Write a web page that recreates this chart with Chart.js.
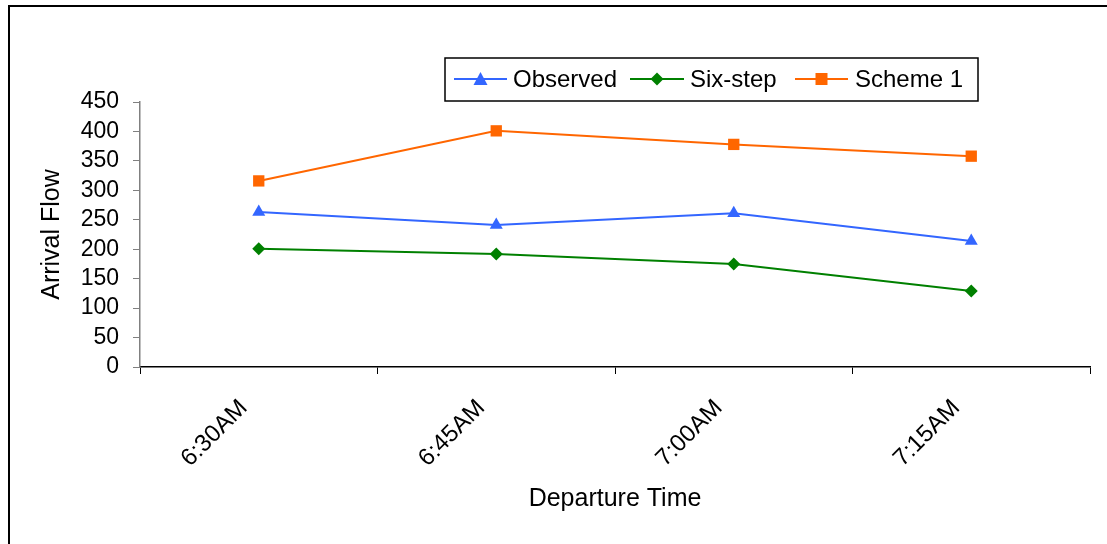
<!DOCTYPE html>
<html><head><meta charset="utf-8">
<script src="https://cdn.jsdelivr.net/npm/chart.js@4/dist/chart.umd.min.js"></script>
<style>html,body{margin:0;padding:0;background:#fff;overflow:hidden}#wrap{width:1107px;height:544px}</style>
</head><body><div id="wrap"><canvas id="c" width="1107" height="544"></canvas></div>
<script>
const categories = ["6:30AM", "6:45AM", "7:00AM", "7:15AM"];
const observed = [263, 241, 261, 214];
const sixStep = [201, 192, 175, 129];
const scheme1 = [316, 401, 378, 358];
const yTicks = [0, 50, 100, 150, 200, 250, 300, 350, 400, 450];
const seriesNames = ["Observed", "Six-step", "Scheme 1"];
const colors = ["#3366FF", "#008000", "#FF6600"];
const markers = ["triangle", "rectRot", "rect"];
const markerRadius = [7.5, 6.5, 8];
const FONT = "'Liberation Sans', Arial, sans-serif";

const frame = {
  id: 'frame',
  beforeDraw(chart) {
    const ctx = chart.ctx;
    ctx.save();
    ctx.fillStyle = '#fff';
    ctx.fillRect(0, 0, chart.width, chart.height);
    ctx.strokeStyle = '#000';
    ctx.lineWidth = 2;
    ctx.beginPath();
    ctx.moveTo(9, 560); ctx.lineTo(9, 6); ctx.lineTo(1120, 6);
    ctx.stroke();
    ctx.restore();
  }
};

const customLegend = {
  id: 'customLegend',
  afterDraw(chart) {
    const ctx = chart.ctx;
    ctx.save();
    ctx.strokeStyle = '#000';
    ctx.lineWidth = 1.5;
    ctx.strokeRect(445, 58, 533, 43);
    const cy = 79;
    const items = [
      {x0: 454, x1: 507, text: 513},
      {x0: 630, x1: 684, text: 690},
      {x0: 795, x1: 848, text: 855}
    ];
    ctx.font = "24px " + FONT;
    ctx.textBaseline = 'middle';
    items.forEach((it, i) => {
      ctx.strokeStyle = colors[i];
      ctx.lineWidth = 2;
      ctx.beginPath(); ctx.moveTo(it.x0, cy); ctx.lineTo(it.x1, cy); ctx.stroke();
      const mx = (it.x0 + it.x1) / 2;
      ctx.fillStyle = colors[i];
      ctx.beginPath();
      if (i === 0) { ctx.moveTo(mx, cy - 7); ctx.lineTo(mx + 7, cy + 6); ctx.lineTo(mx - 7, cy + 6); }
      else if (i === 1) { ctx.moveTo(mx, cy - 6.5); ctx.lineTo(mx + 6.5, cy); ctx.lineTo(mx, cy + 6.5); ctx.lineTo(mx - 6.5, cy); }
      else { ctx.rect(mx - 6, cy - 6, 12, 12); }
      ctx.closePath(); ctx.fill();
      ctx.fillStyle = '#000';
      ctx.textAlign = 'left';
      ctx.fillText(seriesNames[i], it.text, cy + 1);
    });
    ctx.restore();
  }
};

const dataSets = [observed, sixStep, scheme1].map((d, i) => ({
  label: seriesNames[i],
  data: d,
  borderColor: colors[i],
  backgroundColor: colors[i],
  borderWidth: 2,
  pointStyle: markers[i],
  pointRadius: markerRadius[i],
  pointHoverRadius: markerRadius[i],
  pointBorderWidth: 0,
  tension: 0
}));

new Chart(document.getElementById('c'), {
  type: 'line',
  data: { labels: categories, datasets: dataSets },
  options: {
    responsive: false,
    animation: false,
    devicePixelRatio: 1,
    layout: { padding: { left: 30, top: 102, right: 17, bottom: 0 } },
    plugins: { legend: { display: false }, tooltip: { enabled: false } },
    scales: {
      x: {
        type: 'category',
        offset: true,
        grid: { display: true, drawOnChartArea: false, offset: true, color: '#000', tickLength: 7, tickWidth: 1 },
        border: { display: true, color: '#000', width: 1.5 },
        ticks: { font: { family: FONT, size: 24 }, color: '#000', minRotation: 45, maxRotation: 45, padding: 20, labelOffset: -15, autoSkip: false },
        title: { display: true, text: 'Departure Time', font: { family: FONT, size: 25 }, color: '#000', padding: { top: 0, bottom: 30 } },
        afterFit(s) { s.height = 177; }
      },
      y: {
        min: 0, max: 450,
        afterBuildTicks(s) { s.ticks = yTicks.map(v => ({ value: v })); },
        grid: { display: true, drawOnChartArea: false, color: '#808080', tickLength: 7 },
        border: { display: true, color: '#808080', width: 1.5 },
        ticks: { font: { family: FONT, size: 23 }, color: '#000', padding: 14, autoSkip: false },
        title: { display: true, text: 'Arrival Flow', font: { family: FONT, size: 25 }, color: '#000', padding: { top: 7, bottom: 0 } },
        afterFit(s) { s.width = 110; }
      }
    }
  },
  plugins: [frame, customLegend]
});
</script>
</body></html>
